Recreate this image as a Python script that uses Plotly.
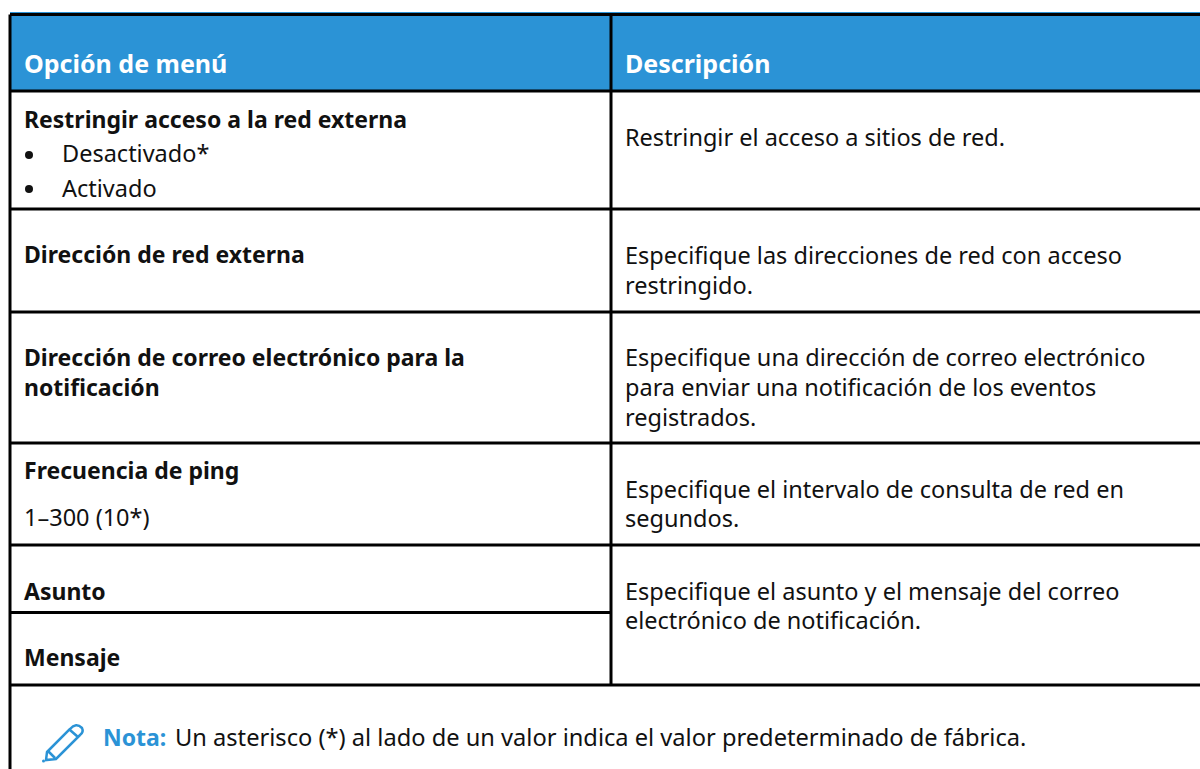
import plotly.graph_objects as go

FONT = "Noto Sans"
BLUE = "#2b93d6"
INK = "#111111"

header_labels = ["Opción de menú", "Descripción"]
left_bold = ["Restringir acceso a la red externa", "Dirección de red externa",
             "Dirección de correo electrónico para la", "notificación",
             "Frecuencia de ping", "Asunto", "Mensaje"]
left_bold_y = [119, 254, 357, 387, 470, 591, 657]
left_plain = ["Desactivado*", "Activado", "1–300 (10*)"]
left_plain_x = [62, 62, 24]
left_plain_y = [153, 188, 517]
bullets_y = [155, 189]
right_text = ["Restringir el acceso a sitios de red.",
              "Especifique las direcciones de red con acceso", "restringido.",
              "Especifique una dirección de correo electrónico",
              "para enviar una notificación de los eventos", "registrados.",
              "Especifique el intervalo de consulta de red en", "segundos.",
              "Especifique el asunto y el mensaje del correo",
              "electrónico de notificación."]
right_y = [137, 255, 285, 357, 387, 417, 489, 518, 591, 620]
note_label = "Nota:"
note_text = "Un asterisco (*) al lado de un valor indica el valor predeterminado de fábrica."

h_full = [14.5, 91, 209, 312, 443, 545, 685]
h_left_only = [612.5]
v_left, v_mid = 10, 611

fig = go.Figure()

def add(text, x, y, size, color=INK, bold=False):
    fig.add_annotation(x=x, y=y, xref="x", yref="y", text=f"<b>{text}</b>" if bold else text,
                       showarrow=False, xanchor="left", yanchor="middle", borderpad=0, borderwidth=0,
                       font=dict(family=FONT, size=size, color=color))

fig.add_shape(type="rect", x0=v_left, x1=1200, y0=h_full[0], y1=h_full[1], fillcolor=BLUE, line_width=0, layer="below")
fig.add_shape(type="line", x0=v_left, x1=1200, y0=12.5, y1=12.5, line=dict(color=BLUE, width=1))
for y in h_full:
    fig.add_shape(type="line", x0=v_left, x1=1200, y0=y, y1=y, line=dict(color="black", width=3))
for y in h_left_only:
    fig.add_shape(type="line", x0=v_left, x1=v_mid, y0=y, y1=y, line=dict(color="black", width=3))
fig.add_shape(type="line", x0=v_left, x1=v_left, y0=h_full[0], y1=769, line=dict(color="black", width=3))
fig.add_shape(type="line", x0=v_mid, x1=v_mid, y0=h_full[0], y1=h_full[-1], line=dict(color="black", width=3))

add(header_labels[0], 24, 63, 25, "white", True)
add(header_labels[1], 625, 63, 25, "white", True)
for t, y in zip(left_bold, left_bold_y):
    add(t, 24, y, 23, bold=True)
for t, x, y in zip(left_plain, left_plain_x, left_plain_y):
    add(t, x, y, 23.5)
fig.add_trace(go.Scatter(x=[29] * len(bullets_y), y=bullets_y, mode="markers",
                         marker=dict(color=INK, size=8), showlegend=False, hoverinfo="skip"))
for t, y in zip(right_text, right_y):
    add(t, 625, y, 23.5)
add(note_label, 103, 737, 23, color=BLUE, bold=True)
add(note_text, 175, 737, 23.65)

# pencil icon
fig.add_shape(type="path",
              path="M 47 752 L 70 729 Q 76 722 82 728 Q 84 732 80 735 L 56 759 L 46 760 Z M 70 730 L 78 737 M 48 751 L 55 758",
              line=dict(color=BLUE, width=2.5), fillcolor="rgba(0,0,0,0)")
fig.add_shape(type="circle", x0=42, x1=45, y0=759.5, y1=762.5, fillcolor=BLUE, line_width=0)

fig.update_xaxes(range=[0, 1200], visible=False, fixedrange=True)
fig.update_yaxes(range=[769, 0], visible=False, fixedrange=True)
fig.update_layout(width=1200, height=769, margin=dict(l=0, r=0, t=0, b=0),
                  paper_bgcolor="white", plot_bgcolor="white", showlegend=False)
fig.write_html("out.html", config={"displayModeBar": False},
               post_script="document.body.style.margin='0';document.body.style.overflow='hidden';")
